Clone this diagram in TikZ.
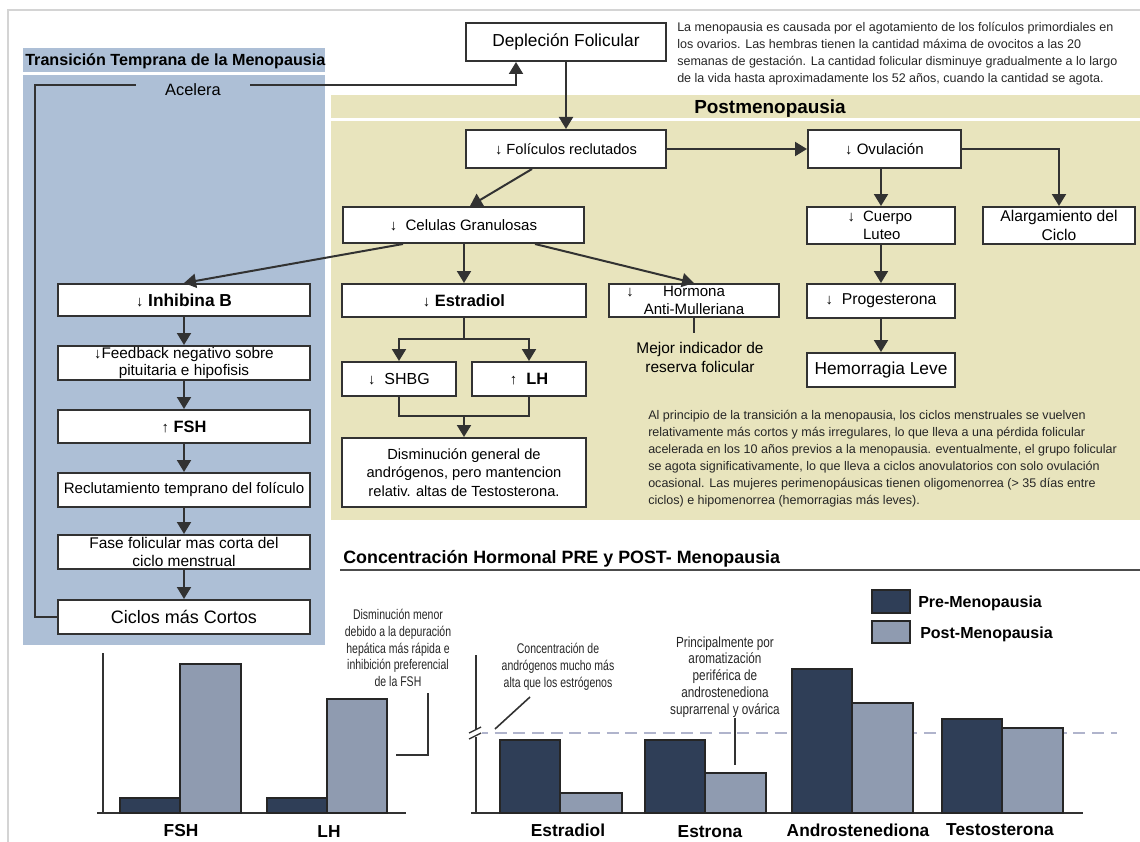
\documentclass[tikz,border=0pt]{standalone}
\usepackage{fontspec}
\setmainfont{Liberation Sans}
\newfontfamily\cond[FakeStretch=0.75]{Liberation Sans}
\newfontfamily\condb[FakeStretch=0.8]{Liberation Sans}
\usetikzlibrary{arrows.meta}
\definecolor{panelblue}{RGB}{173,191,214}
\definecolor{panelyellow}{RGB}{232,228,189}
\definecolor{linegray}{RGB}{50,50,50}
\definecolor{bardark}{RGB}{47,62,87}
\definecolor{barlight}{RGB}{143,155,176}
\definecolor{framegray}{RGB}{212,212,212}
\definecolor{dashblue}{RGB}{176,180,204}
\tikzset{
  box/.style={draw=linegray, line width=1.5pt, fill=white, inner sep=0pt, align=center,
    font=\fontsize{11.3}{13.5}\selectfont},
  bigbox/.style={box, font=\fontsize{13}{15}\selectfont},
  boldbox/.style={box, font=\bfseries\fontsize{12.3}{14}\selectfont},
  arr/.style={draw=linegray, line width=1.5pt, -{Triangle[length=9pt,width=10.5pt]}},
  plain/.style={draw=linegray, line width=1.5pt},
  para/.style={anchor=north west, inner sep=0pt, align=left, font=\fontsize{9.4}{12.75}\selectfont, text=black!85},
  note/.style={inner sep=0pt, align=center, font=\cond\fontsize{10.5}{12.6}\selectfont, text=black!85},
  bar1/.style={fill=bardark, draw=black!85, line width=1pt},
  bar2/.style={fill=barlight, draw=black!85, line width=1pt},
  axis/.style={draw=linegray, line width=1.5pt},
  lab/.style={font=\bfseries\fontsize{13}{15}\selectfont},
}
\newcommand{\dn}{{\fontseries{b}\fontsize{11}{8}\selectfont ↓}}
\newcommand{\upa}{{\fontseries{b}\fontsize{11}{8}\selectfont ↑}}
\begin{document}
\begin{tikzpicture}[x=0.75pt,y=-0.75pt]
\useasboundingbox (0,0) rectangle (1140,842);
% frame
\draw[framegray, line width=1.5pt] (8,842) -- (8,10) -- (1140,10);
% panels
\fill[panelblue] (23,48) rectangle (325,72);
\fill[panelblue] (23,75) rectangle (325,645);
\fill[panelyellow] (331,95) rectangle (1140,118);
\fill[panelyellow] (331,121) rectangle (1140,520);
\node[anchor=west, inner sep=0pt, font=\bfseries\fontsize{12.1}{14}\selectfont] (ttitle) at (25,61) {Transición Temprana de la Menopausia};
\node[inner sep=0pt, font=\bfseries\fontsize{14.2}{16}\selectfont] (ptitle) at (770,109) {Postmenopausia};

% top flow
\node[bigbox, minimum width=150pt, minimum height=28.5pt] (dep) at (566,42) {Depleción Folicular};
\node[para] (p1) at (677,22) {La menopausia es causada por el agotamiento de los folículos primordiales en\\
los ovarios. Las hembras tienen la cantidad máxima de ovocitos a las 20\\
semanas de gestación. La cantidad folicular disminuye gradualmente a lo largo\\
de la vida hasta aproximadamente los 52 años, cuando la cantidad se agota.};

\node[box, minimum width=150pt, minimum height=28.5pt, font=\fontsize{11}{13}\selectfont] (fol) at (566,149) {\dn\ Folículos reclutados};
\node[box, minimum width=114.75pt, minimum height=28.5pt] (ovu) at (884.5,149) {\dn\ Ovulación};
\node[box, minimum width=180.75pt, minimum height=27pt] (cel) at (463.5,225) {\dn\ \ Celulas Granulosas};
\node[box, minimum width=111pt, minimum height=27.75pt, align=left, font=\fontsize{11.2}{14}\selectfont] (cue) at (881,225.5) {\hspace*{10pt}\llap{\dn\ \ }Cuerpo\\\hspace*{10pt}Luteo};
\node[box, minimum width=114pt, minimum height=27.75pt, font=\fontsize{11.7}{14}\selectfont] (ala) at (1059,225.5) {Alargamiento del\\Ciclo};
\node[boldbox, minimum width=189pt, minimum height=24pt, font=\bfseries\fontsize{13}{14}\selectfont] (inh) at (184,300) {\dn\ Inhibina B};
\node[boldbox, minimum width=183pt, minimum height=24.75pt] (est) at (464,300.5) {\dn\ Estradiol};
\node[box, minimum width=127.5pt, minimum height=24.75pt, font=\fontsize{11.3}{13}\selectfont] (amh) at (694,300.5) {\llap{\dn\hspace{22pt}}Hormona\\Anti-Mulleriana};
\node[box, minimum width=111pt, minimum height=25.5pt, font=\fontsize{11.8}{14}\selectfont] (pro) at (881,301) {\dn\ \ Progesterona};
\node[bigbox, minimum width=111pt, minimum height=25.5pt] (hem) at (881,370) {Hemorragia Leve};
\node[box, minimum width=85.5pt, minimum height=25.5pt, font=\fontsize{12}{14}\selectfont] (shbg) at (399,379) {\dn\ \ SHBG};
\node[boldbox, minimum width=85.5pt, minimum height=25.5pt] (lh) at (529,379) {\upa\ \ LH};
\node[box, minimum width=183pt, minimum height=51.75pt, font=\fontsize{11}{14}\selectfont] (dis) at (464,472.5) {Disminución general de\\andrógenos, pero mantencion\\relativ. altas de Testosterona.};
\node[inner sep=0pt, align=center, font=\fontsize{11.6}{14.25}\selectfont] (mej) at (700,357) {Mejor indicador de\\reserva folicular};
\node[para] (p2) at (648,410) {Al principio de la transición a la menopausia, los ciclos menstruales se vuelven\\
relativamente más cortos y más irregulares, lo que lleva a una pérdida folicular\\
acelerada en los 10 años previos a la menopausia. eventualmente, el grupo folicular\\
se agota significativamente, lo que lleva a ciclos anovulatorios con solo ovulación\\
ocasional. Las mujeres perimenopáusicas tienen oligomenorrea (> 35 días entre\\
ciclos) e hipomenorrea (hemorragias más leves).};

% left column
\node[box, minimum width=189pt, minimum height=25.5pt, font=\fontsize{11.5}{13.2}\selectfont] (fb) at (184,363) {\dn Feedback negativo sobre\\pituitaria e hipofisis};
\node[boldbox, minimum width=189pt, minimum height=24.75pt] (fsh) at (184,426.5) {\upa\ FSH};
\node[box, minimum width=189pt, minimum height=25.5pt] (rec) at (184,490) {Reclutamiento temprano del folículo};
\node[box, minimum width=189pt, minimum height=25.5pt, font=\fontsize{11.6}{13.2}\selectfont] (fas) at (184,552) {Fase folicular mas corta del\\ciclo menstrual};
\node[bigbox, minimum width=189pt, minimum height=25.5pt, font=\fontsize{13.5}{15}\selectfont] (cic) at (184,617) {Ciclos más Cortos};

% connectors
\draw[arr] (dep) -- (fol);
\draw[arr] (fol) -- (ovu);
\draw[arr] ([shift={(-34,0)}]fol.south) -- ([shift={(6.5,0)}]cel.north);
\draw[arr] (ovu.south -| cue.north) -- (cue.north);
\draw[arr] (ovu.east) -| (ala.north);
\draw[arr] ([shift={(-60.5,0)}]cel.south) -- (inh.north);
\draw[arr] (cel.south -| est.north) -- (est.north);
\draw[arr] ([shift={(71.5,0)}]cel.south) -- (amh.north);
\coordinate (mejtop) at (694,333);
\draw[plain] (amh.south) -- (mejtop);
\draw[arr] (cue) -- (pro);
\draw[arr] (pro) -- (hem);
\coordinate (split) at (464,339);
\draw[plain] (est.south) -- (split);
\draw[arr] (split) -| (shbg.north);
\draw[arr] (split) -| (lh.north);
\coordinate (join) at (464,416);
\draw[plain] (shbg.south) |- (join) -| (lh.south);
\draw[arr] (join) -- (dis.north);
\draw[arr] (inh) -- (fb);
\draw[arr] (fb) -- (fsh);
\draw[arr] (fsh) -- (rec);
\draw[arr] (rec) -- (fas);
\draw[arr] (fas) -- (cic);
\coordinate (fbcorner) at (35,85);
\draw[arr] (cic.west) -| (fbcorner) -| ([shift={(-50,0)}]dep.south);
\node[fill=panelblue, inner sep=2pt, minimum width=86pt, font=\fontsize{12.3}{14}\selectfont] (acel) at (193,90) {Acelera};

% chart title
\node[anchor=west, inner sep=0pt, font=\bfseries\fontsize{13.4}{15}\selectfont] (ctitle) at (343,559) {Concentración Hormonal PRE y POST- Menopausia};
\coordinate (ulA) at (340,570);
\coordinate (ulB) at (1140,570);
\draw[draw=black!70, line width=1.2pt] (ulA) -- (ulB);

% legend
\draw[bar1] (872,590) rectangle (910,613);
\draw[bar2] (872,621) rectangle (910,643);
\node[anchor=west, inner sep=0pt, font=\bfseries\fontsize{12}{14}\selectfont] (lpre) at (918,603) {Pre-Menopausia};
\node[anchor=west, inner sep=0pt, font=\bfseries\fontsize{12}{14}\selectfont] (lpost) at (920,634) {Post-Menopausia};

% left chart
\draw[axis] (103,653) -- (103,813);
\draw[axis] (97,813) -- (406,813);
\draw[bar1] (120,798) rectangle (180,813);
\draw[bar2] (180,664) rectangle (241,813);
\draw[bar1] (267,798) rectangle (327,813);
\draw[bar2] (327,699) rectangle (387,813);
\node[lab] (lfsh) at (181,831) {FSH};
\node[lab] (llh) at (329,832) {LH};
\node[note] (n1) at (398,648) {Disminución menor\\debido a la depuración\\hepática más rápida e\\inhibición preferencial\\de la FSH};
\coordinate (n1a) at (428,693);
\coordinate (n1b) at (396,755);
\draw[plain, line width=1.2pt] (n1a) |- (n1b);

% right chart
\draw[dashblue, line width=1.5pt, dash pattern=on 9pt off 5pt] (476,733) -- (1117,733);
\draw[axis] (476,655) -- (476,813);
\draw[axis] (471,813) -- (1083,813);
\fill[white] (470,729) rectangle (482,737);
\draw[linegray, line width=1pt] (469,733) -- (481,727);
\draw[linegray, line width=1pt] (469,739) -- (481,733);
\draw[bar1] (500,740) rectangle (560,813);
\draw[bar2] (560,793) rectangle (622,813);
\draw[bar1] (645,740) rectangle (705,813);
\draw[bar2] (705,773) rectangle (766,813);
\draw[bar1] (792,669) rectangle (852,813);
\draw[bar2] (852,703) rectangle (913,813);
\draw[bar1] (942,719) rectangle (1002,813);
\draw[bar2] (1002,728) rectangle (1063,813);
\node[lab] (lest) at (568,830) {Estradiol};
\node[lab] (lestr) at (710,832) {Estrona};
\node[lab] (land) at (858,830) {Androstenediona};
\node[lab] (ltes) at (1000,830) {Testosterona};
\node[note] (n2) at (558,667) {Concentración de\\andrógenos mucho más\\alta que los estrógenos};
\coordinate (n2a) at (530,697);
\coordinate (n2b) at (495,729);
\draw[plain, line width=1.2pt] (n2a) -- (n2b);
\node[note, font=\condb\fontsize{11}{12.6}\selectfont] (n3) at (725,677) {Principalmente por\\aromatización\\periférica de\\androstenediona\\suprarrenal y ovárica};
\coordinate (n3a) at (735,718);
\coordinate (n3b) at (735,765);
\draw[plain, line width=1.2pt] (n3a) -- (n3b);
\end{tikzpicture}
\end{document}
